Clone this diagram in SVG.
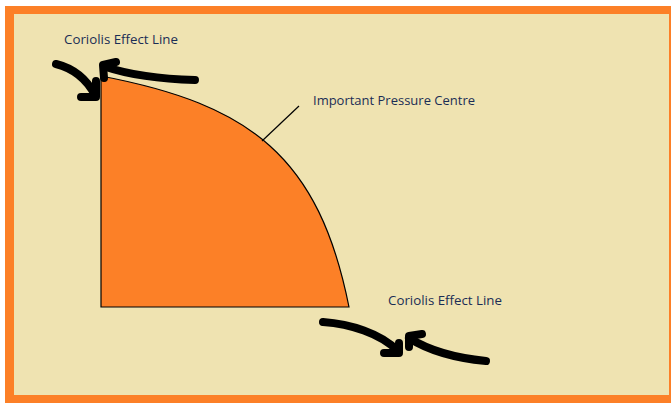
<svg xmlns="http://www.w3.org/2000/svg" width="671" height="418" viewBox="0 0 671 418">
<style>
.lbl{font-family:"Open Sans","Liberation Sans",sans-serif;font-size:12px;fill:#1a2d55}
.brush{fill:none;stroke:#000;stroke-width:8;stroke-linecap:round;stroke-linejoin:round}
.thin{fill:none;stroke:#000;stroke-width:1.2}
</style>
<rect x="0" y="0" width="671" height="418" fill="#fff"/>
<rect x="5" y="6" width="680" height="397" fill="#fc8027"/>
<rect x="14" y="14" width="655" height="381" fill="#efe3b1"/>
<g id="shape">
<path d="M101,76 C251,104.5 319,157 349,307 L101,307 Z" fill="#fc8027"/>
<path d="M101,307 L101,76 C251,104.5 319,157 349,307 Z" class="thin"/>
</g>
<g id="labels">
<text class="lbl" x="64" y="44" textLength="114" lengthAdjust="spacingAndGlyphs">Coriolis Effect Line</text>
<text class="lbl" x="313" y="105" textLength="162" lengthAdjust="spacingAndGlyphs">Important Pressure Centre</text>
<text class="lbl" x="388" y="305" textLength="114" lengthAdjust="spacingAndGlyphs">Coriolis Effect Line</text>
</g>
<g id="connectors">
<path d="M262,141 L299,106" class="thin" stroke-width="1"/>
<path d="M56,64 C72,68 86,78 95,95" class="brush"/>
<path d="M81,97 L96,97 L96,81" class="brush"/>
<path d="M195,80 C160,79 130,75 106,67" class="brush"/>
<path d="M116,62 L103,65 L104,78" class="brush"/>
<path d="M323,322 C350,324 380,333 398,351" class="brush"/>
<path d="M384,353 L399,353 L399,343" class="brush"/>
<path d="M486,361 C455,358 428,350 409,338" class="brush"/>
<path d="M422,334 L409,336 L409,347" class="brush"/>
</g>
</svg>
